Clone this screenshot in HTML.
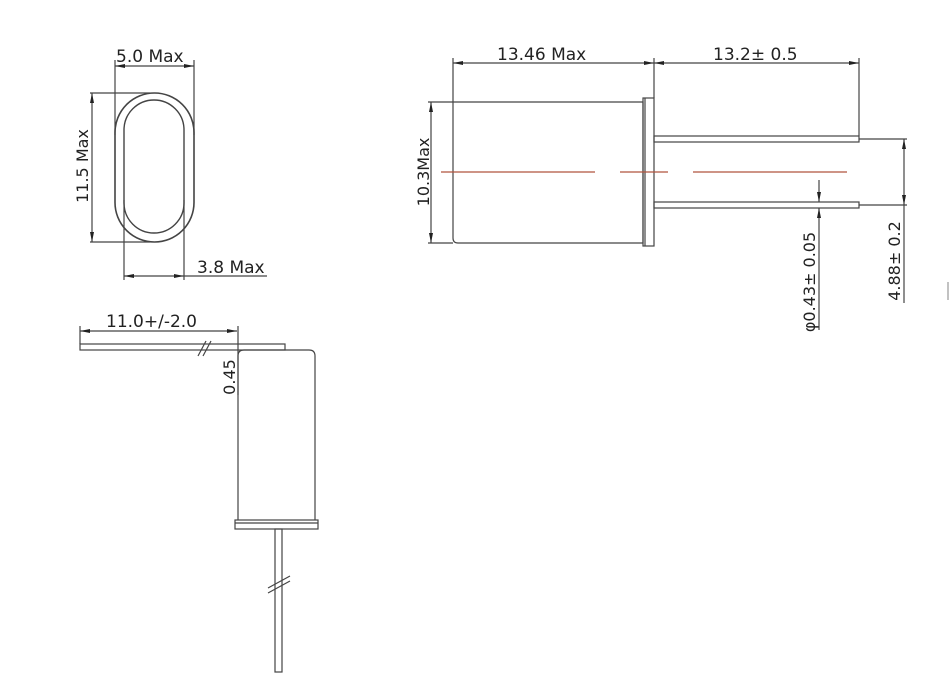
<!DOCTYPE html>
<html><head><meta charset="utf-8"><style>
html,body{margin:0;padding:0;background:#fff;width:951px;height:692px;overflow:hidden}
svg{display:block}
text{font-family:"DejaVu Sans","Liberation Sans",sans-serif;fill:#222}
</style></head><body>
<svg width="951" height="692" viewBox="0 0 951 692" xmlns="http://www.w3.org/2000/svg">
<defs>
<marker id="a" viewBox="0 0 10 6" refX="10" refY="3" markerWidth="10" markerHeight="6" orient="auto-start-reverse" markerUnits="userSpaceOnUse"><path d="M0,1 L10,3 L0,5 z" fill="#222"/></marker>
</defs>
<g stroke="#444" stroke-width="1.2" fill="none">
<rect x="115" y="93" width="79" height="149" rx="39.5" ry="39.5" stroke-width="1.6"/>
<rect x="124" y="100" width="60" height="133" rx="30" ry="30" stroke-width="1.4"/>
<line x1="115" y1="60" x2="115" y2="135"/>
<line x1="194" y1="60" x2="194" y2="135"/>
<line x1="115" y1="66" x2="194" y2="66" marker-start="url(#a)" marker-end="url(#a)"/>
<line x1="90" y1="93" x2="150" y2="93"/>
<line x1="90" y1="242" x2="150" y2="242"/>
<line x1="92" y1="93" x2="92" y2="242" marker-start="url(#a)" marker-end="url(#a)"/>
<line x1="124" y1="200" x2="124" y2="280"/>
<line x1="184" y1="200" x2="184" y2="280"/>
<line x1="124" y1="276" x2="184" y2="276" marker-start="url(#a)" marker-end="url(#a)"/>
<line x1="184" y1="276" x2="267" y2="276"/>
<path d="M453,102 L643,102 L643,243 L458,243 Q453,243 453,238 Z"/>
<rect x="643" y="98" width="11" height="148"/>
<line x1="645" y1="98" x2="645" y2="246"/>
<rect x="654" y="136" width="205" height="6"/>
<rect x="654" y="202" width="205" height="6"/>
<line x1="453" y1="58" x2="453" y2="102"/>
<line x1="654" y1="58" x2="654" y2="98"/>
<line x1="859" y1="58" x2="859" y2="136"/>
<line x1="453" y1="63" x2="654" y2="63" marker-start="url(#a)" marker-end="url(#a)"/>
<line x1="654" y1="63" x2="859" y2="63" marker-start="url(#a)" marker-end="url(#a)"/>
<line x1="428" y1="102" x2="453" y2="102"/>
<line x1="428" y1="243" x2="453" y2="243"/>
<line x1="431" y1="102" x2="431" y2="243" marker-start="url(#a)" marker-end="url(#a)"/>
<line x1="859" y1="139" x2="907" y2="139"/>
<line x1="859" y1="205" x2="907" y2="205"/>
<line x1="904" y1="139" x2="904" y2="205" marker-start="url(#a)" marker-end="url(#a)"/>
<line x1="904" y1="205" x2="904" y2="303"/>
<line x1="819" y1="180" x2="819" y2="202" marker-end="url(#a)"/>
<line x1="819" y1="330" x2="819" y2="208" marker-end="url(#a)"/>
<rect x="80" y="344" width="205" height="6"/>
<path d="M238,520 L238,356 Q238,350 244,350 L309,350 Q315,350 315,356 L315,520"/>
<rect x="235" y="520" width="83" height="9"/>
<line x1="235" y1="523" x2="318" y2="523"/>
<rect x="275" y="529" width="7" height="143"/>
<line x1="80" y1="331" x2="237" y2="331" marker-start="url(#a)" marker-end="url(#a)"/>
<line x1="80" y1="326" x2="80" y2="344"/>
<line x1="238" y1="326" x2="238" y2="395"/>
<line x1="198" y1="356" x2="206" y2="341"/>
<line x1="203" y1="356" x2="211" y2="341"/>
<line x1="268" y1="588" x2="290" y2="576"/>
<line x1="268" y1="593" x2="290" y2="581"/>
<line x1="948" y1="282" x2="948" y2="300" stroke="#999"/>
</g>
<g stroke="#b0533f" stroke-width="1.2">
<line x1="441" y1="172" x2="595" y2="172"/>
<line x1="620" y1="172" x2="668" y2="172"/>
<line x1="693" y1="172" x2="847" y2="172"/>
</g>
<g font-size="17">
<text x="116" y="62">5.0 Max</text>
<text x="197" y="273">3.8 Max</text>
<text transform="translate(88,166) rotate(-90)" text-anchor="middle" font-size="16">11.5 Max</text>
<text x="497" y="60">13.46 Max</text>
<text x="713" y="60">13.2± 0.5</text>
<text transform="translate(429,172) rotate(-90)" text-anchor="middle" font-size="16">10.3Max</text>
<text transform="translate(900,261) rotate(-90)" text-anchor="middle" font-size="16">4.88± 0.2</text>
<text transform="translate(815,282) rotate(-90)" text-anchor="middle" font-size="16">φ0.43± 0.05</text>
<text x="106" y="327">11.0+/-2.0</text>
<text transform="translate(235,377) rotate(-90)" text-anchor="middle" font-size="16">0.45</text>
</g>
</svg>
</body></html>
